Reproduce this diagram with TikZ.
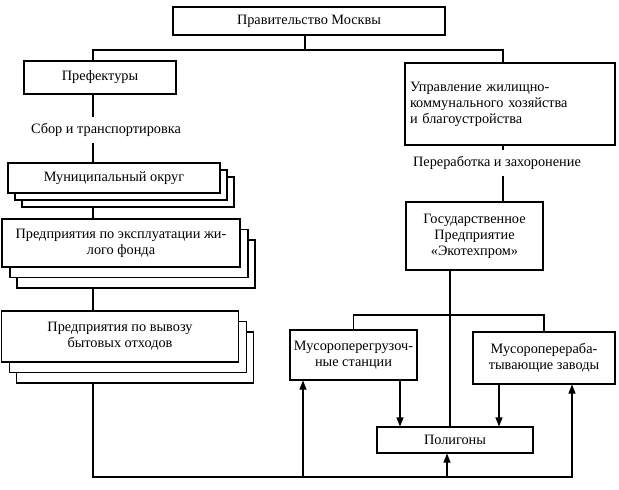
\documentclass[tikz,border=0pt]{standalone}
\usepackage{fontspec}
\setmainfont{Liberation Serif}
\usetikzlibrary{backgrounds,shadows,arrows.meta}

\begin{document}
\begin{tikzpicture}[x=1pt,y=-1pt,
  every node/.style={font=\fontsize{14.3}{16}\selectfont},
  box/.style={draw, fill=white, line width=1.1pt, align=center, inner sep=3pt},
  twin/.style={copy shadow={shadow xshift=2*#1, shadow yshift=-2*#1, draw=black, fill=white, line width=1.1pt},
               copy shadow={shadow xshift=#1, shadow yshift=-#1, draw=black, fill=white, line width=1.1pt}},
  stacka/.style={box, twin=7pt},
  stackb/.style={box,
    copy shadow={shadow xshift=15pt, shadow yshift=-21pt, draw=black, fill=white, line width=1.1pt},
    copy shadow={shadow xshift=8pt, shadow yshift=-10.5pt, draw=black, fill=white, line width=1.1pt}},
  link/.style={line width=1.1pt},
  arr/.style={link, -{Triangle[length=9pt, width=7pt]}}]

     \useasboundingbox (0,0) rectangle (619,490);

     \path (309,21) node[box, minimum width=272pt, minimum height=28pt] (gov) {Правительство Москвы};
     \path (100,77.5) node[box, minimum width=152pt, minimum height=33pt] (pref) {Префектуры};
     \path (510,104) node[box, text width=200pt, align=left, inner sep=5pt, minimum height=82pt] (upr) {Управление жилищно-\\коммунального хозяйства\\и благоустройства};

     \path (106,130) node[inner sep=6pt] (sbor) {Сбор и транспортировка};
     \path (497,163) node[inner sep=6pt] (perer) {Переработка и захоронение};

     \path (114,178) node[stacka, minimum width=212pt, minimum height=30pt] (mun) {Муниципальный округ};
     \path (121,243) node[stackb, minimum width=238pt, minimum height=48pt] (expl) {Предприятия по эксплуатации жи-\\лого фонда};
     \path (120,336.5) node[stackb, minimum width=237pt, minimum height=51pt] (vyv) {Предприятия по вывозу\\бытовых отходов};

     \path (474.5,236) node[box, minimum width=137pt, minimum height=68pt] (gos) {Государственное\\Предприятие\\«Экотехпром»};
     \path (353.5,355) node[box, minimum width=127pt, minimum height=50pt] (mpg) {Мусороперегрузоч-\\ные станции};
     \path (544,358) node[box, minimum width=142pt, minimum height=52pt] (mpz) {Мусороперераба-\\тывающие заводы};
     \path (455,440) node[box, minimum width=156pt, minimum height=26pt] (poly) {Полигоны};

     \coordinate (gcol) at (305,0);
     \coordinate (lcol) at (93,0);
     \coordinate (rcol) at (503,0);
     \coordinate (mcol) at (450,0);
     \coordinate (pcol) at (303,0);
     \coordinate (qcol) at (447,0);
     \coordinate (zcol) at (572,0);
     \coordinate (acol) at (400,0);
     \coordinate (bcol) at (499,0);
     \coordinate (top) at (0,50);
     \coordinate (bar) at (0,315);
     \coordinate (bot) at (0,477);

     \begin{scope}[on background layer]
     \draw[link] (gov.south -| gcol) -- (top -| gcol);
     \draw[link] (pref.north -| lcol) |- (top -| rcol) -- (upr.north -| rcol);
     \draw[link] (pref.south -| lcol) -- (sbor.north -| lcol);
     \draw[link] (sbor.south -| lcol) -- (mun.north -| lcol);
     \draw[link] (mun.south -| lcol) -- (expl.north -| lcol);
     \draw[link] (expl.south -| lcol) -- (vyv.north -| lcol);
     \draw[arr] (vyv.south -| lcol) |- (bot -| zcol) -- (mpz.south -| zcol);
     \draw[arr] (bot -| pcol) -- (mpg.south -| pcol);
     \draw[arr] (bot -| qcol) -- (poly.south -| qcol);

     \draw[link] (upr.south -| rcol) -- (perer.north -| rcol);
     \draw[link] (perer.south -| rcol) -- (gos.north -| rcol);
     \draw[link] (gos.south -| mcol) -- (poly.north -| mcol);
     \draw[link] (mpg.north) |- (bar -| mcol) -| (mpz.north);
     \draw[arr] (mpg.south -| acol) -- (poly.north -| acol);
     \draw[arr] (mpz.south -| bcol) -- (poly.north -| bcol);
     \end{scope}

\end{tikzpicture}
\end{document}
